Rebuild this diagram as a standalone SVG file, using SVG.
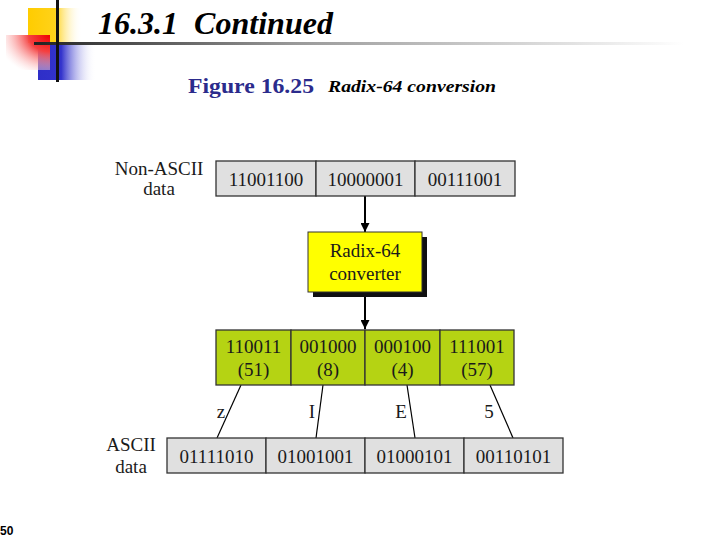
<svg xmlns="http://www.w3.org/2000/svg" width="720" height="540" viewBox="0 0 720 540">
<defs>
<linearGradient id="gy" x1="0" y1="0" x2="1" y2="0"><stop offset="0" stop-color="#FFCC00"/><stop offset="0.5" stop-color="#FFD21A"/><stop offset="1" stop-color="#FFFFFF" stop-opacity="0"/></linearGradient>
<radialGradient id="gr" cx="1" cy="0" r="1.2"><stop offset="0" stop-color="#EE0000"/><stop offset="0.4" stop-color="#F54040"/><stop offset="1" stop-color="#FFFFFF" stop-opacity="0.3"/></radialGradient>
<linearGradient id="gb" x1="0" y1="0" x2="1" y2="0"><stop offset="0" stop-color="#2E2EC8"/><stop offset="0.4" stop-color="#3333CC"/><stop offset="1" stop-color="#FFFFFF" stop-opacity="0"/></linearGradient>
<linearGradient id="gl" x1="0" y1="0" x2="1" y2="0"><stop offset="0" stop-color="#222222"/><stop offset="0.4" stop-color="#999999"/><stop offset="1" stop-color="#FFFFFF"/></linearGradient>
<marker id="ah" viewBox="0 0 10 10" refX="10" refY="5" markerWidth="4.5" markerHeight="4.5" orient="auto" markerUnits="strokeWidth"><path d="M0,0 L10,5 L0,10 z" fill="#000"/></marker>
</defs>
<style>
.t{font-family:"Liberation Serif","Times New Roman",serif;font-size:19px;fill:#1a1a1a;text-anchor:middle}
.cell{stroke:#333;stroke-width:1.3}
.gray{fill:#E0E0E0}
.green{fill:#B5D313}
.ln{stroke:#000;stroke-width:1.2;fill:none}
.arr{stroke:#000;stroke-width:2;fill:none}
</style>
<rect width="720" height="540" fill="#fff"/>
<g id="decoration">
<rect x="28" y="8" width="54" height="35" fill="url(#gy)"/>
<rect x="38" y="45" width="58" height="35" fill="url(#gb)"/>
<rect x="6" y="35" width="44" height="35" fill="url(#gr)"/>
<rect x="34" y="42" width="650" height="3" fill="url(#gl)"/>
<rect x="56" y="0" width="3" height="82" fill="#111"/>
</g>
<g id="title">
<text x="98" y="34" font-family="'Liberation Serif','Times New Roman',serif" font-size="31" font-weight="bold" font-style="italic" fill="#000" textLength="235" lengthAdjust="spacingAndGlyphs" xml:space="preserve">16.3.1  Continued</text>
<text x="188" y="93" font-family="'Liberation Serif','Times New Roman',serif" font-size="21" font-weight="bold" fill="#2B2B8C" textLength="126" lengthAdjust="spacingAndGlyphs">Figure 16.25</text>
<text x="328" y="92" font-family="'Liberation Serif','Times New Roman',serif" font-size="16" font-weight="bold" font-style="italic" fill="#000" textLength="168" lengthAdjust="spacingAndGlyphs">Radix-64 conversion</text>
</g>
<g id="connectors">
<line class="arr" x1="365" y1="196" x2="365" y2="232" marker-end="url(#ah)"/>
<line class="arr" x1="365" y1="292" x2="365" y2="329" marker-end="url(#ah)"/>
<line class="ln" x1="241" y1="385" x2="217" y2="438"/>
<line class="ln" x1="323" y1="385" x2="316" y2="438"/>
<line class="ln" x1="407" y1="385" x2="415" y2="438"/>
<line class="ln" x1="490" y1="385" x2="513" y2="438"/>
</g>
<g id="nonascii">
<text class="t" x="159" y="175">Non-ASCII</text>
<text class="t" x="159" y="195">data</text>
<rect class="cell gray" x="216" y="161" width="100" height="35"/>
<rect class="cell gray" x="316" y="161" width="99" height="35"/>
<rect class="cell gray" x="415" y="161" width="100" height="35"/>
<text class="t" x="266" y="186">11001100</text>
<text class="t" x="365.5" y="186">10000001</text>
<text class="t" x="465" y="186">00111001</text>
</g>
<g id="converter">
<rect x="313" y="237" width="114" height="60" fill="#111"/>
<rect x="308" y="232" width="114" height="60" fill="#FFFF00" stroke="#333" stroke-width="1"/>
<text class="t" x="365" y="257">Radix-64</text>
<text class="t" x="365" y="280">converter</text>
</g>
<g id="sixbit">
<rect class="cell green" x="216" y="330" width="75" height="55"/>
<rect class="cell green" x="291" y="330" width="74" height="55"/>
<rect class="cell green" x="365" y="330" width="75" height="55"/>
<rect class="cell green" x="440" y="330" width="74" height="55"/>
<text class="t" x="253.5" y="353">110011</text>
<text class="t" x="253.5" y="376">(51)</text>
<text class="t" x="328" y="353">001000</text>
<text class="t" x="328" y="376">(8)</text>
<text class="t" x="402.5" y="353">000100</text>
<text class="t" x="402.5" y="376">(4)</text>
<text class="t" x="477" y="353">111001</text>
<text class="t" x="477" y="376">(57)</text>
</g>
<g id="labels">
<text class="t" x="221" y="418">z</text>
<text class="t" x="312" y="418">I</text>
<text class="t" x="401" y="418">E</text>
<text class="t" x="489" y="418">5</text>
</g>
<g id="ascii">
<text class="t" x="131" y="451">ASCII</text>
<text class="t" x="131" y="473">data</text>
<rect class="cell gray" x="167" y="438" width="99" height="35"/>
<rect class="cell gray" x="266" y="438" width="99" height="35"/>
<rect class="cell gray" x="365" y="438" width="99" height="35"/>
<rect class="cell gray" x="464" y="438" width="99" height="35"/>
<text class="t" x="216.5" y="463">01111010</text>
<text class="t" x="315.5" y="463">01001001</text>
<text class="t" x="414.5" y="463">01000101</text>
<text class="t" x="513.5" y="463">00110101</text>
</g>
<text x="0" y="535" font-family="'Liberation Sans',Arial,sans-serif" font-size="12" font-weight="bold" fill="#000">50</text>
</svg>
